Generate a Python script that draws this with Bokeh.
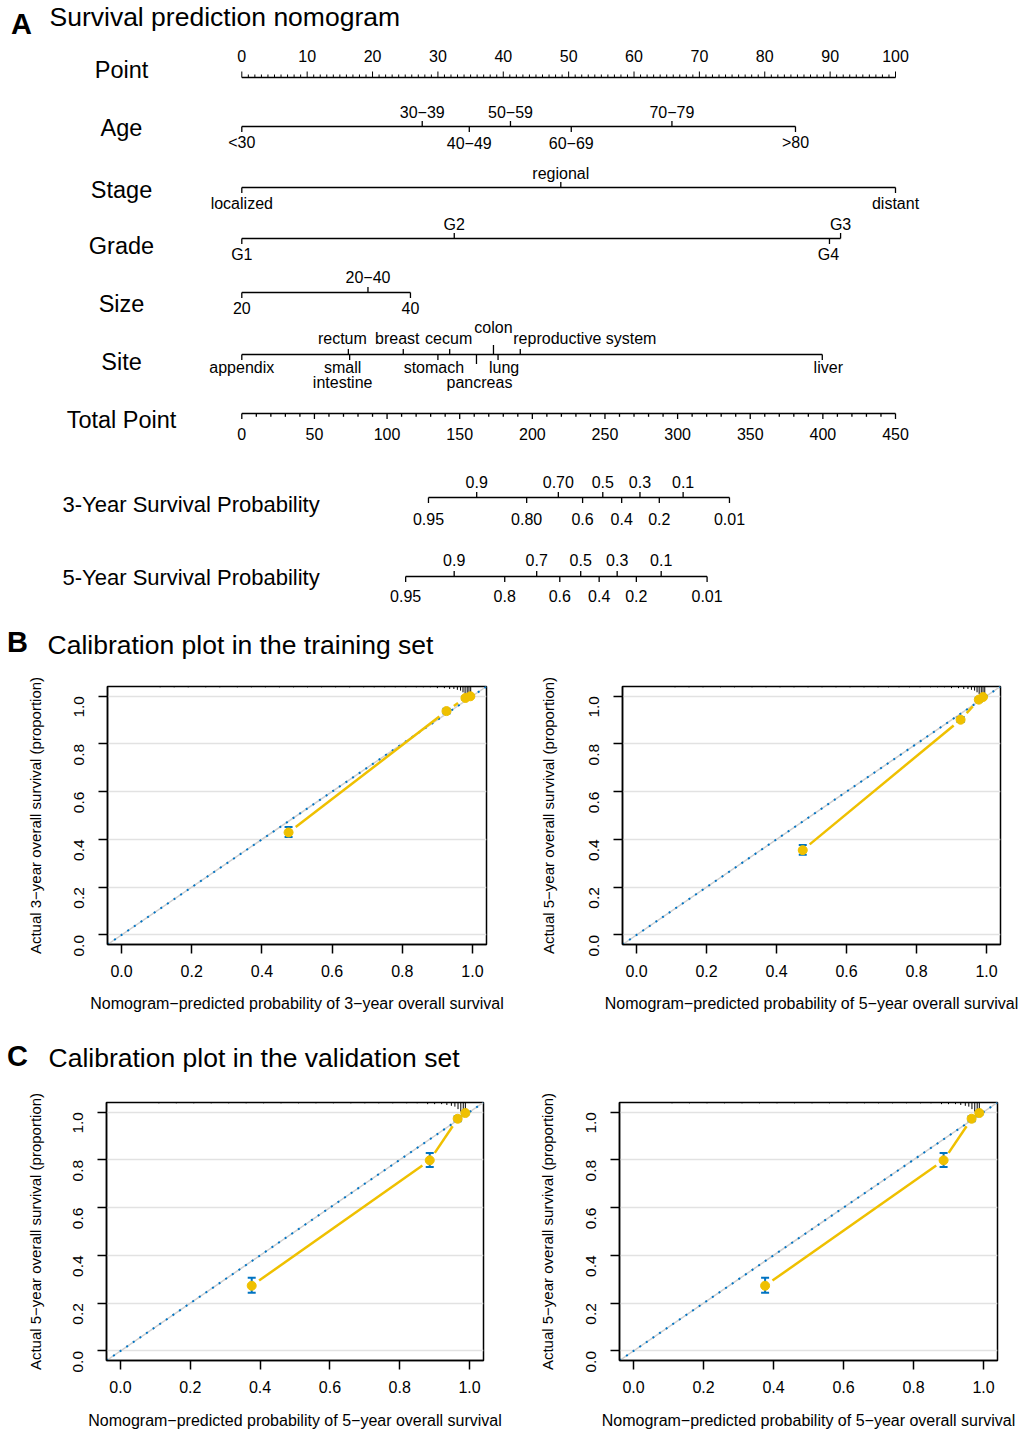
import math
from bokeh.plotting import figure
from bokeh.layouts import column, row
from bokeh.models import Range1d, FixedTicker, PrintfTickFormatter, Slope
from bokeh.core.properties import value
from bokeh.embed import file_html
from bokeh.resources import INLINE

FONT = "Liberation Sans"
YELLOW = "#EFC000"
BLUE = "#0073C2"

# ---------------- nomogram data (points scale 0-100) ----------------
point_major = [0, 10, 20, 30, 40, 50, 60, 70, 80, 90, 100]
point_minor = list(range(0, 101))
age_levels = ["<30", "30−39", "40−49", "50−59", "60−69", "70−79", ">80"]
age_points = [0, 27.6, 34.8, 41.1, 50.4, 65.8, 84.7]
stage_levels = ["localized", "regional", "distant"]
stage_points = [0, 48.8, 100]
grade_levels = ["G1", "G2", "G3", "G4"]
grade_points = [0, 32.5, 91.6, 89.9]
size_levels = ["20", "20−40", "40"]
size_points = [0, 19.3, 25.8]
site_levels = ["appendix", "rectum", "small intestine", "breast", "stomach", "cecum",
               "pancreas", "colon", "lung", "reproductive system", "liver"]
site_points = [0, 16.3, 16.5, 24.7, 30.0, 31.8, 35.9, 38.5, 39.2, 42.6, 88.8]
total_major = [0, 50, 100, 150, 200, 250, 300, 350, 400, 450]
total_minor = list(range(0, 451, 10))
surv3_labels = ["0.95", "0.9", "0.80", "0.70", "0.6", "0.5", "0.4", "0.3", "0.2", "0.1", "0.01"]
surv3_total = [128.5, 161.7, 196.1, 217.9, 234.6, 248.5, 261.5, 274.1, 287.4, 303.8, 335.7]
surv5_labels = ["0.95", "0.9", "0.8", "0.7", "0.6", "0.5", "0.4", "0.3", "0.2", "0.1", "0.01"]
surv5_total = [112.8, 146.2, 181.0, 203.0, 218.9, 233.3, 246.0, 258.4, 271.6, 288.7, 320.3]

# ---------------- calibration data ----------------
cal_ticks = [0.0, 0.2, 0.4, 0.6, 0.8, 1.0]
train3_pred = [0.476, 0.926, 0.980, 0.994]
train3_obs = [0.429, 0.937, 0.992, 0.999]
train3_lo = [0.410, 0.927, 0.985, 0.995]
train3_hi = [0.452, 0.947, 0.998, 1.003]
train5_pred = [0.475, 0.926, 0.978, 0.990]
train5_obs = [0.355, 0.901, 0.985, 0.996]
train5_lo = [0.336, 0.891, 0.977, 0.991]
train5_hi = [0.376, 0.912, 0.993, 1.002]
valid5_pred = [0.376, 0.886, 0.966, 0.988]
valid5_obs = [0.273, 0.798, 0.972, 0.996]
valid5_lo = [0.244, 0.770, 0.962, 0.990]
valid5_hi = [0.306, 0.829, 0.982, 1.003]
train_rug_x = [0.11, 0.15, 0.19, 0.24, 0.28, 0.33, 0.37, 0.41, 0.45, 0.49, 0.53, 0.57, 0.61, 0.65,
               0.69, 0.72, 0.75, 0.78, 0.81, 0.84, 0.86, 0.88, 0.90, 0.92, 0.935, 0.947, 0.957,
               0.966, 0.973, 0.979, 0.985, 0.990, 0.995]
train_rug_f = [1, 1, 1, 1, 1, 1, 1, 1, 1, 1, 1, 1, 1, 1, 1, 1, 1, 1, 1, 1, 1, 1, 2, 2, 3, 3, 4,
               5, 7, 9, 12, 13, 11]
valid_rug_x = [0.11, 0.16, 0.21, 0.26, 0.31, 0.36, 0.41, 0.46, 0.51, 0.56, 0.61, 0.66, 0.70,
               0.74, 0.78, 0.82, 0.85, 0.88, 0.90, 0.92, 0.935, 0.948, 0.958, 0.967, 0.975,
               0.982, 0.988]
valid_rug_f = [1, 1, 1, 1, 1, 1, 1, 1, 1, 1, 1, 1, 1, 1, 1, 1, 1, 2, 2, 2, 3, 4, 5, 8, 11, 13, 12]


def txt(p, x, y, s, size, align="center", bold=False, rng="default", dx=0, dy=0):
    p.text(x=[x], y=[y], text=[s], x_offset=dx, y_offset=dy,
           text_font=value(FONT), text_font_size=f"{size}px", text_align=align,
           text_baseline="middle", text_color="black",
           text_font_style="bold" if bold else "normal", x_range_name=rng)


# ---------------- top figure: title + nomogram ----------------
W = 1020
PX0, PX100 = 241.3, 895.0
ppt = (PX100 - PX0) / 100.0
xs0 = (0 - PX0) / ppt
xs1 = (W - PX0) / ppt
TOPH = 663
top = figure(width=W, height=TOPH, x_range=Range1d(xs0, xs1), y_range=Range1d(TOPH, 0),
             output_backend="svg", toolbar_location=None, x_axis_type=None, y_axis_type=None,
             min_border=0, outline_line_color=None)
top.extra_x_ranges = {"total": Range1d(xs0 * 4.5, xs1 * 4.5), "px": Range1d(0, W)}

LW = 1.3
LAB = 16
ROWLAB = 23.5

# titles
txt(top, 21, 23, "A", 29, bold=True, rng="px")
txt(top, 49, 16, "Survival prediction nomogram", 26.5, align="left", rng="px")
txt(top, 17, 641, "B", 29, bold=True, rng="px")
txt(top, 47, 644, "Calibration plot in the training set", 26.5, align="left", rng="px")

# row labels
for s, y in [("Point", 69), ("Age", 127), ("Stage", 189), ("Grade", 245), ("Size", 303),
             ("Site", 361), ("Total Point", 419)]:
    txt(top, 121, y, s, ROWLAB, rng="px")
txt(top, 62, 504, "3-Year Survival Probability", 22, align="left", rng="px")
txt(top, 62, 577, "5-Year Survival Probability", 22, align="left", rng="px")

# Point ruler
YP = 77
top.segment(x0=[point_minor[0]], y0=[YP], x1=[point_minor[-1]], y1=[YP], line_color="black", line_width=LW)
top.segment(x0=point_minor, y0=[YP] * len(point_minor), x1=point_minor,
            y1=[YP - (6 if v % 10 == 0 else 3) for v in point_minor], line_color="black", line_width=1)
for v in point_major:
    txt(top, v, 55, str(v), LAB)


def var_row(p, y, pts, labels, sides, levels=None, dxs=None, aligns=None,
            up=-14.5, dn=16.0, step=11.0, rng="default", wrap=None):
    n = len(pts)
    levels = levels or [1] * n
    dxs = dxs or [0] * n
    aligns = aligns or ["center"] * n
    wrap = wrap or [False] * n
    p.segment(x0=[min(pts)], y0=[y], x1=[max(pts)], y1=[y], line_color="black",
              line_width=LW, x_range_name=rng)
    y1 = []
    for s, lv in zip(sides, levels):
        L = 5.5 if lv == 1 else 9.5
        y1.append(y - L if s == "a" else y + L)
    p.segment(x0=pts, y0=[y] * n, x1=pts, y1=y1, line_color="black", line_width=LW, x_range_name=rng)
    for v, lab, s, lv, dx, al, w in zip(pts, labels, sides, levels, dxs, aligns, wrap):
        lines = lab.split(" ") if w else [lab]
        for i, ln in enumerate(lines):
            lvl = lv + i
            ly = y + up - step * (lvl - 1) if s == "a" else y + dn + step * (lvl - 1) + (5 * (lvl - 1))
            txt(p, v, ly, ln, LAB, align=al, rng=rng, dx=dx)


var_row(top, 126, age_points, age_levels, ["b", "a", "b", "a", "b", "a", "b"])
var_row(top, 187, stage_points, stage_levels, ["b", "a", "b"])
var_row(top, 238, grade_points, grade_levels, ["b", "a", "a", "b"], dxs=[0, 0, 0, -1])
var_row(top, 292, size_points, size_levels, ["b", "a", "b"], up=-15.5, dn=15.5)
var_row(top, 354, site_points, site_levels,
        ["b", "a", "b", "a", "b", "a", "b", "a", "b", "a", "b"],
        levels=[1, 1, 1, 1, 1, 1, 2, 2, 1, 1, 1],
        dxs=[0, -6, -7, -6, -4, -1, 3, 0, 6, -7, 6],
        aligns=["center"] * 9 + ["left", "center"],
        wrap=[False, False, True] + [False] * 8,
        up=-16.5, dn=12.5, step=10.5)

# Total point ruler
YT = 413
top.segment(x0=[total_minor[0]], y0=[YT], x1=[total_minor[-1]], y1=[YT], line_color="black",
            line_width=LW, x_range_name="total")
top.segment(x0=total_minor, y0=[YT] * len(total_minor), x1=total_minor,
            y1=[YT + (5.5 if v % 50 == 0 else 3.3) for v in total_minor],
            line_color="black", line_width=LW, x_range_name="total")
for v in total_major:
    txt(top, v, 433, str(v), LAB, rng="total")

# survival probability axes
alt = ["b", "a", "b", "a", "b", "a", "b", "a", "b", "a", "b"]
var_row(top, 497, surv3_total, surv3_labels, alt, rng="total", up=-16, dn=21)
var_row(top, 576, surv5_total, surv5_labels, alt, rng="total", up=-17, dn=19)


# ---------------- calibration panels ----------------
def gapped(xs, ys, sx, sy, gap):
    x0, y0, x1, y1 = [], [], [], []
    for i in range(len(xs) - 1):
        dx = xs[i + 1] - xs[i]
        dy = ys[i + 1] - ys[i]
        d = math.hypot(dx * sx, dy * sy)
        if d > 2 * gap + 2:
            f = gap / d
            x0.append(xs[i] + dx * f)
            y0.append(ys[i] + dy * f)
            x1.append(xs[i + 1] - dx * f)
            y1.append(ys[i + 1] - dy * f)
    return x0, y0, x1, y1


def calib(w, h, bl, br, bt, bb, pred, obs, lo, hi, rug_x, rug_f, xlab, ylab,
          xstand, xtitle_stand, ytitle_stand):
    p = figure(width=w, height=h, x_range=Range1d(-0.04, 1.04), y_range=Range1d(-0.04, 1.04),
               output_backend="svg", toolbar_location=None,
               min_border_left=bl, min_border_right=br, min_border_top=bt, min_border_bottom=bb)
    fw = w - bl - br
    fh = h - bt - bb
    p.outline_line_color = "black"
    p.outline_line_width = 1.5
    p.outline_line_alpha = 1.0
    p.xgrid.visible = False
    p.ygrid.ticker = FixedTicker(ticks=cal_ticks)
    p.ygrid.grid_line_color = "#E2E2E2"
    p.ygrid.grid_line_width = 1.4
    for ax in (p.xaxis[0], p.yaxis[0]):
        ax.ticker = FixedTicker(ticks=cal_ticks)
        ax.formatter = PrintfTickFormatter(format="%.1f")
        ax.major_tick_out = 9
        ax.major_tick_in = 0
        ax.minor_tick_line_color = None
        ax.axis_line_color = "black"
        ax.axis_line_width = 1.5
        ax.major_tick_line_width = 1.5
        ax.major_tick_line_color = "black"
        ax.major_label_text_font = FONT
        ax.major_label_text_color = "black"
        ax.axis_label_text_font = FONT
        ax.axis_label_text_font_style = "normal"
        ax.axis_label_text_color = "black"
    p.xaxis.major_label_text_font_size = "16px"
    p.xaxis.axis_label_text_font_size = "16px"
    p.xaxis.major_label_standoff = xstand
    p.xaxis.axis_label_standoff = xtitle_stand
    p.xaxis.axis_label = xlab
    p.yaxis.major_label_text_font_size = "15.5px"
    p.yaxis.axis_label_text_font_size = "15px"
    p.yaxis.major_label_orientation = math.pi / 2
    p.yaxis.major_label_standoff = 19
    p.yaxis.axis_label_standoff = ytitle_stand
    p.yaxis.axis_label = ylab

    s1 = Slope(gradient=1, y_intercept=0, line_color="#D0D0D0", line_width=1.5, level="underlay")
    s2 = Slope(gradient=1, y_intercept=0, line_color=BLUE, line_width=2, line_dash="2 6",
               level="underlay")
    p.add_layout(s1)
    p.add_layout(s2)

    # rug (distribution of predictions) at top
    top_y = 1.04
    fmax = max(rug_f)
    p.segment(x0=rug_x, y0=[top_y] * len(rug_x), x1=rug_x,
              y1=[top_y - 0.045 * f / fmax for f in rug_f], line_color="black", line_width=1)

    sx = fw / 1.08
    sy = fh / 1.08
    x0, y0, x1, y1 = gapped(pred, obs, sx, sy, 9)
    p.segment(x0=x0, y0=y0, x1=x1, y1=y1, line_color=YELLOW, line_width=2.5)
    p.segment(x0=pred, y0=lo, x1=pred, y1=hi, line_color=BLUE, line_width=2)
    p.scatter(x=pred + pred, y=lo + hi, marker="dash", size=8, line_color=BLUE, line_width=2)
    p.scatter(x=pred, y=obs, size=9, fill_color=YELLOW, line_color=YELLOW)
    return p


YL3 = "Actual 3−year overall survival (proportion)"
YL5 = "Actual 5−year overall survival (proportion)"
XL3 = "Nomogram−predicted probability of 3−year overall survival"
XL5 = "Nomogram−predicted probability of 5−year overall survival"

# row B: page y 663..1030
b1 = calib(515, 367, 107, 29, 23, 86, train3_pred, train3_obs, train3_lo, train3_hi,
           train_rug_x, train_rug_f, XL3, YL3, 11, 15, 23)
b2 = calib(505, 367, 107, 20, 23, 86, train5_pred, train5_obs, train5_lo, train5_hi,
           train_rug_x, train_rug_f, XL5, YL5, 11, 15, 25)

# heading C: page y 1030..1080
hc = figure(width=W, height=50, x_range=Range1d(0, W), y_range=Range1d(1080, 1030),
            output_backend="svg", toolbar_location=None, x_axis_type=None, y_axis_type=None,
            min_border=0, outline_line_color=None)
txt(hc, 17, 1055, "C", 29, bold=True)
txt(hc, 48, 1057, "Calibration plot in the validation set", 26.5, align="left")

# row C: page y 1080..1435
c1 = calib(515, 355, 106, 32, 22, 75, valid5_pred, valid5_obs, valid5_lo, valid5_hi,
           valid_rug_x, valid_rug_f, XL5, YL5, 11, 16, 22)
c2 = calib(505, 355, 104, 23, 22, 75, valid5_pred, valid5_obs, valid5_lo, valid5_hi,
           valid_rug_x, valid_rug_f, XL5, YL5, 11, 16, 23)

layout = column(top, row(b1, b2), hc, row(c1, c2))
open("out.html", "w").write(file_html(layout, INLINE))
